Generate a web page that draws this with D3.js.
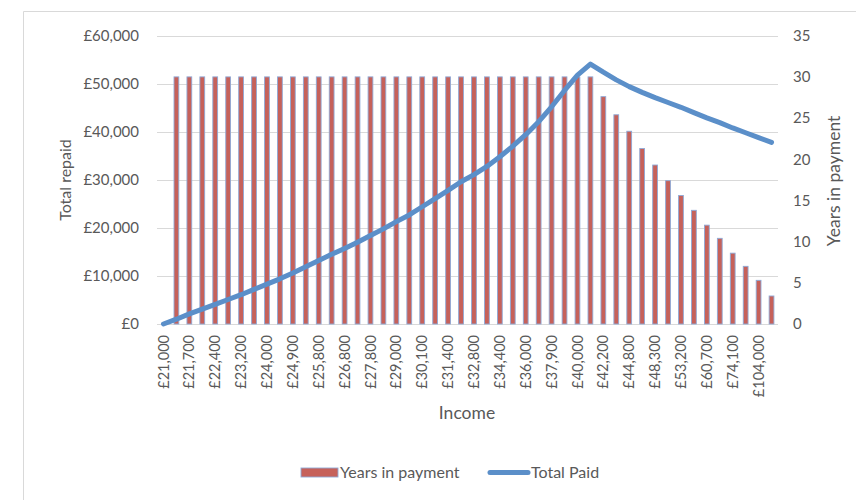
<!DOCTYPE html>
<html>
<head>
<meta charset="utf-8">
<script src="https://cdn.jsdelivr.net/npm/d3@7"></script>
<style>
  html, body { margin: 0; padding: 0; background: #fff; }
  svg { display: block; font-family: Lato, "Open Sans", sans-serif; }
</style>
</head>
<body>
<svg id="chart" width="856" height="500"></svg>
<script>
// Income bands (£); every other band carries a visible axis label
const incomes = [
  21000, 21300, 21700, 22000, 22400, 22800, 23200, 23600, 24000, 24400,
  24900, 25300, 25800, 26300, 26800, 27300, 27800, 28400, 29000, 29500,
  30100, 30700, 31400, 32100, 32800, 33600, 34400, 35200, 36000, 36900,
  37900, 38900, 40000, 41100, 42200, 43500, 44800, 46400, 48300, 50500,
  53200, 56600, 60700, 66500, 74100, 84000, 104000, 150000
];

// Years spent repaying at each income
const yearsInPayment = [
  0, 30, 30, 30, 30, 30, 30, 30, 30, 30,
  30, 30, 30, 30, 30, 30, 30, 30, 30, 30,
  30, 30, 30, 30, 30, 30, 30, 30, 30, 30,
  30, 30, 30, 30, 27.6, 25.4, 23.4, 21.3, 19.3, 17.4,
  15.6, 13.8, 12.0, 10.4, 8.6, 7.0, 5.3, 3.4
];

// Total amount repaid at each income (£)
const totalPaid = [
  0, 1000, 2100, 3100, 4100, 5100, 6100, 7200, 8300, 9400,
  10600, 11900, 13200, 14500, 15700, 17000, 18400, 19800, 21300, 22700,
  24400, 26100, 27800, 29600, 31100, 32800, 34800, 37000, 39400, 42100,
  45200, 48600, 51800, 54100, 52400, 50800, 49400, 48200, 47100, 46100,
  45100, 44000, 42900, 41900, 40800, 39800, 38800, 37800
];

const leftTicks = [0, 10000, 20000, 30000, 40000, 50000, 60000];
const rightTicks = [0, 5, 10, 15, 20, 25, 30, 35];

const svg = d3.select("#chart");
const W = 856, H = 500;
const plot = { left: 157, right: 778, top: 35.7, bottom: 324 };
const textColor = "#595959";
const gridColor = "#d9d9d9";
const barFill = "#c6615a";
const barEdge = "#8fa9d6";
const lineColor = "#5b8fc9";

// Outer frame
svg.append("path")
  .attr("d", `M23.5,${H} L23.5,11.5 L${W},11.5`)
  .attr("fill", "none")
  .attr("stroke", gridColor)
  .attr("stroke-width", 1);

const x = d3.scaleBand()
  .domain(d3.range(incomes.length))
  .range([plot.left, plot.right])
  .paddingInner(0)
  .paddingOuter(0);

const yLeft = d3.scaleLinear().domain([0, 60000]).range([plot.bottom, plot.top]);
const yRight = d3.scaleLinear().domain([0, 35]).range([plot.bottom, plot.top]);

// Horizontal gridlines
svg.append("g")
  .selectAll("line")
  .data(leftTicks)
  .join("line")
  .attr("x1", plot.left)
  .attr("x2", plot.right)
  .attr("y1", d => Math.round(yLeft(d)) + 0.5)
  .attr("y2", d => Math.round(yLeft(d)) + 0.5)
  .attr("stroke", gridColor)
  .attr("stroke-width", 1);

// Left axis
const fmtMoney = d => "£" + d3.format(",")(d);
const leftAxis = svg.append("g")
  .attr("transform", `translate(${plot.left},0)`)
  .call(d3.axisLeft(yLeft).tickValues(leftTicks).tickFormat(fmtMoney).tickSize(0).tickPadding(18));
leftAxis.select(".domain").remove();
leftAxis.selectAll("text")
  .attr("fill", textColor)
  .style("font-size", "15px")
  .style("font-family", "Lato, sans-serif");

// Right axis
const rightAxis = svg.append("g")
  .attr("transform", `translate(${plot.right},0)`)
  .call(d3.axisRight(yRight).tickValues(rightTicks).tickSize(0).tickPadding(15));
rightAxis.select(".domain").remove();
rightAxis.selectAll("text")
  .attr("fill", textColor)
  .style("font-size", "15px")
  .style("font-family", "Lato, sans-serif");

// Bottom axis: label every other income band
const bottomAxis = svg.append("g")
  .attr("transform", `translate(0,${plot.bottom})`)
  .call(d3.axisBottom(x)
    .tickValues(d3.range(0, incomes.length, 2))
    .tickFormat(i => fmtMoney(incomes[i]))
    .tickSize(0));
bottomAxis.select(".domain").remove();
bottomAxis.selectAll("text")
  .attr("fill", textColor)
  .style("font-size", "14.5px")
  .style("font-family", "Lato, sans-serif")
  .attr("text-anchor", "end")
  .attr("transform", "rotate(-90)")
  .attr("x", -11)
  .attr("y", 0)
  .attr("dy", "0.35em");

// Bars: years in payment
const barW = x.bandwidth() * 0.37;
svg.append("g")
  .selectAll("rect")
  .data(yearsInPayment)
  .join("rect")
  .attr("x", (d, i) => x(i) + (x.bandwidth() - barW) / 2)
  .attr("y", d => yRight(d))
  .attr("width", barW)
  .attr("height", d => yRight(0) - yRight(d))
  .attr("fill", barFill)
  .attr("stroke", barEdge)
  .attr("stroke-width", d => d > 0 ? 0.9 : 0);

// Line: total paid
const line = d3.line()
  .x((d, i) => x(i) + x.bandwidth() / 2)
  .y(d => yLeft(d));
svg.append("path")
  .datum(totalPaid)
  .attr("d", line)
  .attr("fill", "none")
  .attr("stroke", lineColor)
  .attr("stroke-width", 5)
  .attr("stroke-linejoin", "round")
  .attr("stroke-linecap", "round");

// Axis titles
svg.append("text")
  .attr("transform", `translate(71,180) rotate(-90)`)
  .attr("text-anchor", "middle")
  .attr("fill", textColor)
  .style("font-size", "16px")
  .text("Total repaid");

svg.append("text")
  .attr("transform", `translate(840,181) rotate(-90)`)
  .attr("text-anchor", "middle")
  .attr("fill", textColor)
  .style("font-size", "17.5px")
  .text("Years in payment");

svg.append("text")
  .attr("x", 467)
  .attr("y", 419)
  .attr("text-anchor", "middle")
  .attr("fill", textColor)
  .style("font-size", "17.5px")
  .text("Income");

// Legend
const legend = svg.append("g");
legend.append("rect")
  .attr("x", 301).attr("y", 468)
  .attr("width", 37).attr("height", 9)
  .attr("fill", barFill)
  .attr("stroke", barEdge)
  .attr("stroke-width", 0.9);
legend.append("text")
  .attr("x", 340).attr("y", 478)
  .attr("fill", textColor)
  .style("font-size", "16px")
  .text("Years in payment");
legend.append("line")
  .attr("x1", 490).attr("x2", 528)
  .attr("y1", 472.5).attr("y2", 472.5)
  .attr("stroke", lineColor)
  .attr("stroke-width", 5)
  .attr("stroke-linecap", "round");
legend.append("text")
  .attr("x", 531).attr("y", 478)
  .attr("fill", textColor)
  .style("font-size", "16px")
  .text("Total Paid");
</script>
</body>
</html>
